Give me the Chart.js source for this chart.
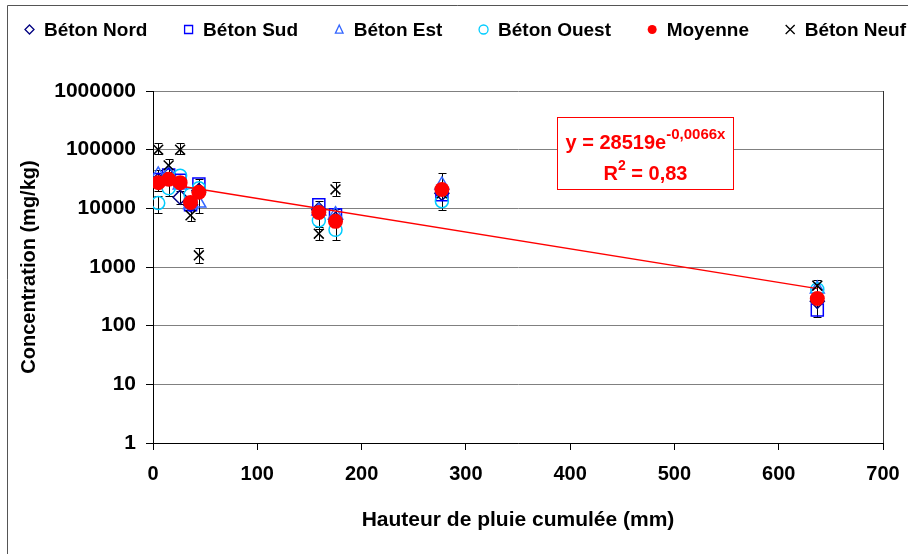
<!DOCTYPE html>
<html>
<head>
<meta charset="utf-8">
<script src="https://cdn.jsdelivr.net/npm/chart.js@4.4.1/dist/chart.umd.min.js"></script>
<style>
  html, body { margin: 0; padding: 0; background: #fff; }
  canvas { display: block; }
</style>
</head>
<body>
<canvas id="chart" width="908" height="554"></canvas>
<script>
// data
let hauteur = [5, 15, 26, 36, 44, 159, 175, 277, 637];
let betonNord = [30000, 37000, 15500, 11500, 20000, 9500, 6500, 18000, 260];
let betonSud = [31000, 37000, 30000, 11500, 26000, 11500, 7800, 17000, 185];
let betonEst = [37000, 40000, 25000, 11500, 12300, 9000, 7800, 25000, 420];
let betonOuest = [12300, 22000, 36000, 17000, 22000, 6200, 4300, 13200, 415];
let moyenne = [27400, 31300, 27400, 12600, 18800, 8500, 6000, 21000, 290];
let betonNeuf = [100000, 54000, 100000, 7600, 1580, 3700, 21000, 18000, 480];

// error bars: [x, low, high]
let errBars = [
  [5, 84000, 129000], [5, 8300, 16500], [5, 20000, 45000],
  [15, 42000, 68000], [15, 16000, 30000],
  [26, 84000, 129000], [26, 12000, 20000],
  [36, 6000, 9700], [44, 1170, 2100], [44, 8300, 32000],
  [159, 2830, 4900], [159, 4500, 13200],
  [175, 16000, 27600], [175, 2830, 9900],
  [277, 9400, 40000], [637, 140, 590]
];

// exponential trend y = 28519 e^(-0.0066x), over the data range
let trendX = [5, 637];
let trendY = [27600, 428];

let yTicks = [1, 10, 100, 1000, 10000, 100000, 1000000];
let seriesNames = ["Béton Nord", "Béton Sud", "Béton Est", "Béton Ouest", "Moyenne", "Béton Neuf"];
let equation = "y = 28519e";
let exponent = "-0,0066x";
let r2Text = "= 0,83";

const FONT = "'Liberation Sans', Arial, sans-serif";
Chart.defaults.font.family = FONT;
Chart.defaults.color = "#000";

let toPoints = (vals) => vals.map((v, i) => ({ x: hauteur[i], y: v }));

let styles = [
  { pointStyle: "rectRot", color: "#000080", r: 7, fill: false },
  { pointStyle: "rect", color: "#0000ff", r: 8.5, fill: false },
  { pointStyle: "triangle", color: "#3366ff", r: 8, fill: false },
  { pointStyle: "circle", color: "#00ccff", r: 6.5, fill: false },
  { pointStyle: "circle", color: "#ff0000", r: 7.5, fill: true },
  { pointStyle: "crossRot", color: "#000000", r: 7, fill: false }
];
let seriesData = [betonNord, betonSud, betonEst, betonOuest, moyenne, betonNeuf];
let orders = [6, 5, 4, 3, 0, 1];

let datasets = seriesData.map((vals, i) => ({
  label: seriesNames[i],
  data: toPoints(vals),
  pointStyle: styles[i].pointStyle,
  pointRadius: styles[i].r,
  pointBorderColor: styles[i].color,
  pointBackgroundColor: styles[i].fill ? styles[i].color : "rgba(0,0,0,0)",
  pointBorderWidth: styles[i].fill ? 0 : 1.5,
  showLine: false,
  order: orders[i]
}));

datasets.push({
  label: "trend",
  data: trendX.map((x, i) => ({ x: x, y: trendY[i] })),
  showLine: true,
  borderColor: "#ff0000",
  borderWidth: 1.5,
  pointRadius: 0,
  order: 2
});

function drawMarker(ctx, style, x, y, r, color, fill) {
  ctx.save();
  ctx.beginPath();
  ctx.strokeStyle = color;
  ctx.fillStyle = color;
  ctx.lineWidth = 1.3;
  if (style == "rectRot") {
    ctx.moveTo(x, y - r); ctx.lineTo(x + r, y); ctx.lineTo(x, y + r); ctx.lineTo(x - r, y); ctx.closePath();
  } else if (style == "rect") {
    ctx.rect(x - r, y - r, 2 * r, 2 * r);
  } else if (style == "triangle") {
    ctx.moveTo(x, y - r); ctx.lineTo(x + r * 0.85, y + r * 0.8); ctx.lineTo(x - r * 0.85, y + r * 0.8); ctx.closePath();
  } else if (style == "circle") {
    ctx.arc(x, y, r, 0, Math.PI * 2);
  } else {
    ctx.moveTo(x - r, y - r); ctx.lineTo(x + r, y + r);
    ctx.moveTo(x + r, y - r); ctx.lineTo(x - r, y + r);
  }
  if (fill) ctx.fill(); else ctx.stroke();
  ctx.restore();
}

let framePlugin = {
  id: "frame",
  beforeDraw(chart) {
    let ctx = chart.ctx;
    ctx.save();
    ctx.fillStyle = "#fff";
    ctx.fillRect(0, 0, chart.width, chart.height);
    ctx.strokeStyle = "#555";
    ctx.lineWidth = 1;
    ctx.beginPath();
    ctx.moveTo(7.5, chart.height);
    ctx.lineTo(7.5, 5.5);
    ctx.lineTo(chart.width, 5.5);
    ctx.stroke();
    ctx.restore();
  },
  afterDraw(chart) {
    let a = chart.chartArea, ctx = chart.ctx;
    ctx.save();
    ctx.strokeStyle = "#333";
    ctx.lineWidth = 1;
    ctx.beginPath();
    ctx.moveTo(Math.round(a.right) + 0.5, a.top);
    ctx.lineTo(Math.round(a.right) + 0.5, a.bottom);
    ctx.stroke();
    ctx.restore();
  }
};

let errorBarPlugin = {
  id: "errorBars",
  beforeDatasetsDraw(chart) {
    let xs = chart.scales.x, ys = chart.scales.y, ctx = chart.ctx;
    ctx.save();
    ctx.strokeStyle = "#000";
    ctx.lineWidth = 1;
    errBars.forEach(([x, lo, hi]) => {
      let px = Math.round(xs.getPixelForValue(x)) + 0.5;
      let y1 = Math.round(ys.getPixelForValue(lo)) + 0.5;
      let y2 = Math.round(ys.getPixelForValue(hi)) + 0.5;
      ctx.beginPath();
      ctx.moveTo(px, y1); ctx.lineTo(px, y2);
      ctx.moveTo(px - 4, y1); ctx.lineTo(px + 4, y1);
      ctx.moveTo(px - 4, y2); ctx.lineTo(px + 4, y2);
      ctx.stroke();
    });
    ctx.restore();
  }
};

let legendPlugin = {
  id: "customLegend",
  afterDraw(chart) {
    let ctx = chart.ctx;
    ctx.save();
    ctx.font = "bold 19px " + FONT;
    ctx.textBaseline = "alphabetic";
    let widths = seriesNames.map((n) => 22 + ctx.measureText(n).width);
    let start = 22, end = 906;
    let gap = (end - start - widths.reduce((a, b) => a + b, 0)) / (seriesNames.length - 1);
    let x = start;
    seriesNames.forEach((n, i) => {
      let s = styles[i];
      let r = s.pointStyle == "rect" ? 4 : 4.5;
      drawMarker(ctx, s.pointStyle, x + 7.5, 29.5, r, s.color, s.fill);
      ctx.fillStyle = "#000";
      ctx.fillText(n, x + 22, 36);
      x += widths[i] + gap;
    });
    ctx.restore();
  }
};

let equationPlugin = {
  id: "equation",
  afterDatasetsDraw(chart) {
    let ctx = chart.ctx;
    ctx.save();
    ctx.fillStyle = "#fff";
    ctx.fillRect(557.5, 117.5, 176, 72);
    ctx.strokeStyle = "#ff0000";
    ctx.lineWidth = 1;
    ctx.strokeRect(557.5, 117.5, 176, 72);
    ctx.fillStyle = "#ff0000";
    ctx.textBaseline = "alphabetic";
    let cx = 645.5;
    ctx.font = "bold 20px " + FONT;
    let w1 = ctx.measureText(equation).width;
    ctx.font = "bold 15px " + FONT;
    let w2 = ctx.measureText(exponent).width;
    let x0 = cx - (w1 + w2) / 2;
    ctx.font = "bold 20px " + FONT;
    ctx.fillText(equation, x0, 149);
    ctx.font = "bold 15px " + FONT;
    ctx.fillText(exponent, x0 + w1, 139);
    // R² line
    ctx.font = "bold 20px " + FONT;
    let wR = ctx.measureText("R").width;
    let wRest = ctx.measureText(" " + r2Text).width;
    ctx.font = "bold 14px " + FONT;
    let wSup = ctx.measureText("2").width;
    let x1 = cx - (wR + wSup + wRest) / 2;
    ctx.font = "bold 20px " + FONT;
    ctx.fillText("R", x1, 180);
    ctx.fillText(" " + r2Text, x1 + wR + wSup, 180);
    ctx.font = "bold 14px " + FONT;
    ctx.fillText("2", x1 + wR, 170);
    ctx.restore();
  }
};

new Chart(document.getElementById("chart"), {
  type: "scatter",
  data: { datasets: datasets },
  options: {
    responsive: false,
    animation: false,
    layout: { padding: { left: 0, top: 91, right: 25, bottom: 0 } },
    plugins: {
      legend: { display: false },
      tooltip: { enabled: false }
    },
    scales: {
      x: {
        type: "linear",
        min: 0,
        max: 700,
        ticks: { stepSize: 100, padding: 12, font: { size: 20, weight: "bold" }, color: "#000", maxRotation: 0 },
        grid: { drawOnChartArea: false, tickLength: 7, tickColor: "#000" },
        border: { color: "#000", width: 1 },
        title: {
          display: true,
          text: "Hauteur de pluie cumulée (mm)",
          font: { size: 21, weight: "bold" },
          color: "#000",
          padding: { top: 0, bottom: 21 }
        },
        afterFit: (s) => { s.height = 111; s.paddingLeft = 0; s.paddingRight = 0; }
      },
      y: {
        type: "logarithmic",
        min: 1,
        max: 1000000,
        afterBuildTicks: (s) => { s.ticks = yTicks.map((v) => ({ value: v })); },
        ticks: { padding: 10, font: { size: 21, weight: "bold" }, color: "#000", callback: (v) => String(v) },
        grid: { color: "#808080", tickLength: 7, tickColor: "#000" },
        border: { color: "#000", width: 1 },
        title: {
          display: true,
          text: "Concentration (mg/kg)",
          font: { size: 20, weight: "bold" },
          color: "#000",
          padding: { top: 17, bottom: 0 }
        },
        afterFit: (s) => { s.width = 153; s.paddingTop = 0; s.paddingBottom = 0; }
      }
    }
  },
  plugins: [framePlugin, errorBarPlugin, legendPlugin, equationPlugin]
});
</script>
</body>
</html>
